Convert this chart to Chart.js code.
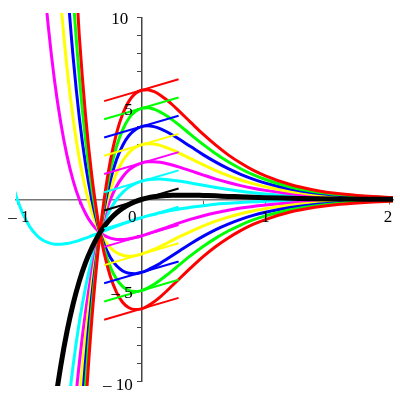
<!DOCTYPE html>
<html><head><meta charset="utf-8">
<script src="https://cdn.jsdelivr.net/npm/chart.js@4/dist/chart.umd.min.js"></script>
<style>html,body{margin:0;padding:0;background:#fff}canvas{display:block}</style>
</head><body>
<canvas id="c" width="400" height="400"></canvas>
<script>
// shared x positions (curves below are aligned to the END of this list)
const xValues = [-1.02,-1.0,-0.95,-0.9,-0.85,-0.8,-0.75,-0.7,-0.65,-0.6,-0.55,-0.5,-0.45,-0.4,-0.35,-0.3333,-0.3,-0.25,-0.2,-0.15,-0.1,-0.05,0,0.05,0.1,0.15,0.2,0.25,0.3,0.4,0.5,0.6,0.7,0.8,0.9,1.0,1.2,1.4,1.6,1.8,2.05];

const yRedTop = [-17.93,-11.57,-6.64,-2.86,-1.81,0,2.12,3.64,4.71,5.40,5.81,6,6.03,5.93,5.74,5.49,5.20,4.88,4.22,3.57,2.98,2.45,2.00,1.61,1.30,0.82,0.51,0.31,0.19,0.10];
const yGreenTop = [-22.65,-15.69,-10.22,-5.98,-2.71,-1.81,-0.25,1.59,2.92,3.84,4.46,4.82,5,5.04,4.96,4.81,4.61,4.37,4.11,3.55,3.01,2.51,2.07,1.69,1.36,1.10,0.69,0.43,0.27,0.16,0.09];
const yBlueTop = [-19.27,-13.45,-8.87,-5.31,-2.57,-1.81,-0.49,1.06,2.19,2.98,3.51,3.83,4,4.05,4.00,3.89,3.73,3.54,3.33,2.89,2.45,2.05,1.69,1.38,1.12,0.90,0.57,0.35,0.22,0.13,0.07];
const yYellowTop = [-21.78,-15.88,-11.20,-7.52,-4.65,-2.43,-1.81,-0.74,0.53,1.46,2.12,2.57,2.85,3,3.06,3.04,2.97,2.85,2.72,2.56,2.23,1.90,1.59,1.31,1.07,0.87,0.70,0.44,0.28,0.17,0.10,0.05];
const yMagentaTop = [-22.49,-16.94,-12.50,-8.96,-6.17,-3.98,-2.29,-1.81,-0.98,0,0.73,1.25,1.62,1.86,2,2.07,2.07,2.04,1.98,1.89,1.79,1.57,1.34,1.12,0.93,0.76,0.62,0.50,0.32,0.20,0.12,0.07,0.04];
const yCyanTop = [-20.42,-15.81,-12.10,-9.11,-6.72,-4.82,-3.32,-2.14,-1.81,-1.23,-0.53,0,0.39,0.68,0.87,1,1.08,1.11,1.12,1.10,1.06,1.02,0.90,0.78,0.66,0.55,0.45,0.37,0.30,0.19,0.12,0.07,0.05,0.02];
const yBlack = [-14.23,-11.43,-9.14,-7.26,-5.73,-4.48,-3.47,-2.66,-2.00,-1.81,-1.48,-1.06,-0.73,-0.47,-0.27,-0.12,0,0.09,0.15,0.19,0.22,0.24,0.24,0.24,0.22,0.20,0.17,0.15,0.12,0.10,0.07,0.04,0.03,0.02,0.01];
const yCyanBot = [0.43,0,-0.86,-1.49,-1.92,-2.21,-2.37,-2.45,-2.46,-2.42,-2.34,-2.24,-2.12,-1.99,-1.86,-1.81,-1.72,-1.59,-1.46,-1.33,-1.22,-1.10,-1,-0.90,-0.82,-0.73,-0.66,-0.59,-0.53,-0.42,-0.34,-0.26,-0.21,-0.16,-0.13,-0.10,-0.06,-0.04,-0.02,-0.01,-0.01];
const yMagentaBot = [17.93,13.23,9.49,6.53,4.22,2.42,1.04,0,-0.77,-1.33,-1.72,-1.81,-1.97,-2.12,-2.19,-2.20,-2.16,-2.09,-2,-1.89,-1.78,-1.66,-1.54,-1.42,-1.30,-1.08,-0.89,-0.73,-0.59,-0.47,-0.38,-0.30,-0.19,-0.11,-0.07,-0.04,-0.02];
const yYellowBot = [15.52,10.89,7.26,4.43,2.24,0.58,-0.66,-1.57,-1.81,-2.21,-2.65,-2.92,-3.06,-3.11,-3.08,-3,-2.88,-2.74,-2.58,-2.42,-2.24,-2.07,-1.75,-1.45,-1.19,-0.97,-0.78,-0.63,-0.50,-0.31,-0.19,-0.12,-0.07,-0.04];
const yBlueBot = [17.57,12.10,7.81,4.48,1.93,0,-1.43,-1.81,-2.46,-3.18,-3.64,-3.92,-4.05,-4.07,-4,-3.87,-3.70,-3.51,-3.29,-3.07,-2.85,-2.41,-2.01,-1.65,-1.35,-1.09,-0.87,-0.70,-0.44,-0.27,-0.17,-0.10,-0.05];
const yGreenBot = [24.25,16.94,11.20,6.72,3.28,0.66,-1.29,-1.81,-2.71,-3.71,-4.37,-4.78,-5.00,-5.05,-5,-4.86,-4.67,-4.43,-4.17,-3.90,-3.62,-3.07,-2.57,-2.12,-1.73,-1.40,-1.12,-0.90,-0.56,-0.35,-0.21,-0.13,-0.07];
const yRedBot = [21.78,14.58,8.96,4.63,1.33,-1.14,-1.81,-2.95,-4.23,-5.10,-5.65,-5.94,-6.04,-6,-5.85,-5.63,-5.36,-5.05,-4.72,-4.39,-3.74,-3.12,-2.58,-2.11,-1.71,-1.37,-1.10,-0.69,-0.43,-0.26,-0.16,-0.08];

// tangent segments at x = 0
const tangentX = [-0.3, 0.3];
const tangentLeftY  = [5.4, 4.4, 3.4, 2.4, 1.4, 0.4, -0.6, -1.6, -2.6, -3.6, -4.6, -5.6, -6.6];
const tangentRightY = [6.6, 5.6, 4.6, 3.6, 2.6, 1.6, 0.6, -0.4, -1.4, -2.4, -3.4, -4.4, -5.4];

const xTickValues = [-1, -0.5, 0, 0.5, 1, 1.5, 2];
const yTickValues = [-10,-9,-8,-7,-6,-5,-4,-3,-2,-1,0,1,2,3,4,5,6,7,8,9,10];
const xLabelValues = [-1, 1, 2];
const xLabelTexts = ['\u2013 1', '1', '2'];
const yLabelValues = [10, 5, -5, -10];
const yLabelTexts = ['10', '5', '\u2013 5', '\u2013 10'];
const originLabel = '0';

// styles
const RED='#ff0000', GREEN='#00ff00', BLUE='#0000ff', YELLOW='#ffff00', MAGENTA='#ff00ff', CYAN='#00ffff', BLACK='#000000';
const curveList = [
  [yCyanTop, CYAN, 3], [yCyanBot, CYAN, 3],
  [yMagentaTop, MAGENTA, 3], [yMagentaBot, MAGENTA, 3],
  [yYellowTop, YELLOW, 3], [yYellowBot, YELLOW, 3],
  [yBlueTop, BLUE, 3], [yBlueBot, BLUE, 3],
  [yGreenTop, GREEN, 3], [yGreenBot, GREEN, 3],
  [yRedTop, RED, 3], [yRedBot, RED, 3],
  [yBlack, BLACK, 5]
];
const tangentColors = [RED, GREEN, BLUE, YELLOW, MAGENTA, CYAN, BLACK, CYAN, MAGENTA, YELLOW, BLUE, GREEN, RED];

const clipBox = {left: 0, right: 0, top: 4.3, bottom: 4.3};
const drawOrder = [];
curveList.forEach(([ys, color, w]) => {
  const off = xValues.length - ys.length;
  drawOrder.push({
    data: ys.map((y, i) => ({x: xValues[off + i], y})),
    borderColor: color, borderWidth: w, pointRadius: 0,
    cubicInterpolationMode: 'monotone', capBezierPoints: false,
    borderJoinStyle: 'round', clip: clipBox, fill: false
  });
});
tangentColors.forEach((color, i) => {
  drawOrder.push({
    data: [{x: tangentX[0], y: tangentLeftY[i]}, {x: tangentX[1], y: tangentRightY[i]}],
    borderColor: color, borderWidth: 2, pointRadius: 0, tension: 0,
    clip: clipBox, fill: false
  });
});
// Chart.js paints dataset 0 last (on top)
const datasets = drawOrder.slice().reverse();

const labelPlugin = {
  id: 'mapleLabels',
  afterDraw(chart) {
    const {ctx} = chart; const xs = chart.scales.x, ys = chart.scales.y;
    const x0 = xs.getPixelForValue(0), y0 = ys.getPixelForValue(0);
    const xNudge = [1.5, 0, -1.5];
    const yRightGap = [13, 8.5, 8.5, 8.5];
    const yNudge = [2.4, 2, 2.5, 3.5];
    ctx.save();
    ctx.font = '17px "Liberation Serif", "Times New Roman", serif';
    ctx.fillStyle = '#000';
    ctx.textBaseline = 'middle';
    ctx.textAlign = 'center';
    xLabelValues.forEach((v, i) => ctx.fillText(xLabelTexts[i], xs.getPixelForValue(v) + xNudge[i], y0 + 18.5));
    ctx.fillText(originLabel, x0 - 9, y0 + 18);
    ctx.textAlign = 'right';
    yLabelValues.forEach((v, i) => ctx.fillText(yLabelTexts[i], x0 - yRightGap[i], ys.getPixelForValue(v) + yNudge[i]));
    ctx.restore();
  }
};

new Chart(document.getElementById('c'), {
  type: 'line',
  data: {datasets},
  options: {
    responsive: false, animation: false, devicePixelRatio: 1,
    layout: {padding: {left: 16, right: 7, top: 17.3, bottom: 18.3}},
    plugins: {legend: {display: false}, tooltip: {enabled: false}},
    scales: {
      x: {
        type: 'linear', min: -1.0105, max: 2.0282, position: {y: 0},
        afterBuildTicks: s => { s.ticks = xTickValues.map(v => ({value: v})); },
        ticks: {display: false},
        grid: {display: true, drawOnChartArea: false, drawTicks: true, tickLength: 4, color: '#666', lineWidth: 1},
        border: {display: true, color: '#777', width: 1.5}
      },
      y: {
        type: 'linear', min: -10, max: 10, position: {x: 0},
        afterBuildTicks: s => { s.ticks = yTickValues.map(v => ({value: v})); },
        ticks: {display: false},
        grid: {display: true, drawOnChartArea: false, drawTicks: true, tickLength: 4, color: '#444', lineWidth: 1},
        border: {display: true, color: '#444', width: 1.5}
      }
    }
  },
  plugins: [labelPlugin]
});
</script>
</body></html>
